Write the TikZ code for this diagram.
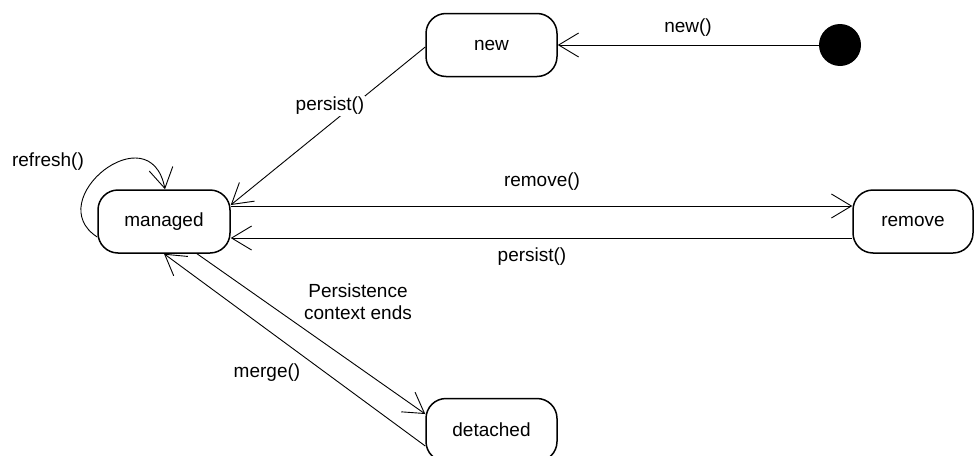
\documentclass[tikz,border=0pt]{standalone}
\usepackage{fontspec}
\setmainfont{Liberation Sans}
\usetikzlibrary{arrows.meta}
\begin{document}
\begin{tikzpicture}[x=1pt,y=-1pt,
  every node/.style={font=\fontsize{19}{22}\selectfont},
  state/.style={draw, line width=1.5pt, rounded corners=20pt,
    minimum width=131pt, minimum height=63pt, inner sep=0pt},
  trans/.style={line width=0.9pt, -{Straight Barb[length=20pt,width=24pt,line width=0.9pt]}},
  lbl/.style={inner sep=1pt}]
\clip (0,0) rectangle (974,455);
\useasboundingbox (0,0) rectangle (974,455);
\fill[white] (0,0) rectangle (974,455);

% states
\node[state] (new) at (491.5,45) {new};
\node[state, minimum width=132pt] (managed) at (164,221.5) {managed};
\node[state, minimum width=120pt] (remove) at (913,221.5) {remove};
\node[state] (detached) at (491.5,430) {detached};
\node[circle, fill=black, minimum size=42pt, inner sep=0pt] (init) at (840,45) {};

% transitions
\draw[trans] (init.west) -- (new.east);
\node[lbl] (lnew) at (688,28) {new()};

\draw[trans] ([yshift=-2pt]new.west) -- ([yshift=16.5pt]managed.east);
\node[lbl, fill=white] (lpersist1) at (330,106) {persist()};

\draw[trans] ([yshift=15.5pt]managed.east) -- ([yshift=15.5pt]remove.west);
\node[lbl] (lremove) at (542,182) {remove()};

\draw[trans] ([yshift=-16.5pt]remove.west) -- ([yshift=-16.5pt]managed.east);
\node[lbl] (lpersist2) at (532,257) {persist()};

\draw[trans] ([yshift=-15.5pt]managed.west) .. controls (40,200) and (150,112) .. ([xshift=1pt]managed.north);
\node[lbl] (lrefresh) at (48,162) {refresh()};

\draw[trans] ([xshift=33pt]managed.south) -- ([yshift=16pt]detached.west);
\node[lbl, align=center] (lends) at (358,302) {Persistence\\context ends};

\draw[trans] ([yshift=-16pt]detached.west) -- (managed.south);
\node[lbl] (lmerge) at (267,373) {merge()};
\end{tikzpicture}
\end{document}
